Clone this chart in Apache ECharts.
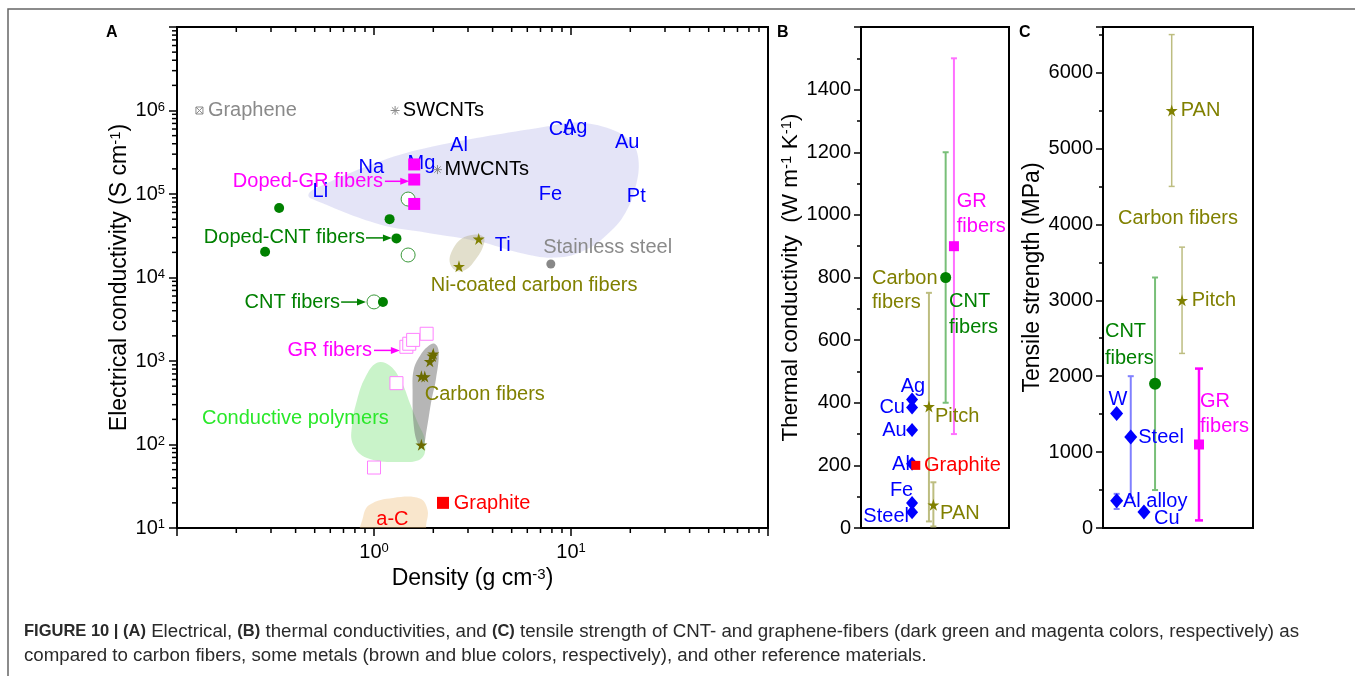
<!DOCTYPE html>
<html><head><meta charset="utf-8">
<script src="https://cdn.jsdelivr.net/npm/echarts@6/dist/echarts.min.js"></script>
<style>html,body{margin:0;padding:0;background:#fff}#c{width:1355px;height:676px}</style>
</head><body><div id="c"></div>
<script>
// ================= PANEL A : density vs electrical conductivity =================
const metalNames   = ['Li','Na','Mg','Al','Cu','Ag','Au','Fe','Pt','Ti'];
const metalDensity = [0.534, 0.97, 1.74, 2.70, 8.96, 10.5, 19.3, 7.87, 21.45, 4.5];
const metalCond    = [1.08e5, 2.1e5, 2.3e5, 3.77e5, 5.96e5, 6.3e5, 4.1e5, 1.0e5, 9.4e4, 2.4e4];

const graphenePt   = [[0.13, 1e6]];
const swcntPt      = [[1.28, 1e6]];
const mwcntPt      = [[2.1, 1.96e5]];
const stainlessPt  = [[7.9, 1.45e4]];
const dopedGRPts   = [[1.6, 2.26e5], [1.6, 1.49e5], [1.6, 7.6e4]];
const cntFilledPts = [[0.33, 6.8e4], [0.28, 2.03e4], [1.2, 5.0e4], [1.3, 2.94e4], [1.11, 5.1e3]];
const cntOpenPts   = [[1.49, 8.7e4], [1.49, 1.86e4], [1.0, 5.1e3]];
const grOpenPts    = [[1.30, 543], [1.0, 53], [1.46, 1.48e3], [1.51, 1.61e3], [1.58, 1.79e3], [1.85, 2.12e3]];
const cfStarPts    = [[2.0, 1.22e3], [1.98, 1.15e3], [1.92, 990], [1.74, 655], [1.81, 650], [1.74, 99]];
const niStarPts    = [[3.4, 2.9e4], [2.7, 1.36e4]];
const graphitePt   = [[2.24, 20]];

// shaded regions (density, conductivity)
const metalsRegion = [[0.464,9.6e4],[0.492,1.13e5],[1.072,2.45e5],[1.986,3.7e5],[7.48,6.43e5],[10.6,7.18e5],[16.1,5.92e5],[20.3,4.13e5],[22.0,2.58e5],[21.3,1.23e5],[18.9,5.98e4],[15.6,3.44e4],[11.9,2.15e4],[8.4,1.73e4],[5.46,1.98e4],[3.43,2.69e4],[1.85,3.44e4],[1.072,4.3e4],[0.492,8.57e4]];
const niRegion     = [[2.42,1.55e4],[2.54,2.28e4],[2.78,2.92e4],[3.2,3.26e4],[3.59,3.08e4],[3.59,2.4e4],[3.27,1.63e4],[2.92,1.24e4],[2.6,1.21e4]];
const cfRegion     = [[2.03,1.61e3],[2.13,1.29e3],[2.06,596],[1.96,343],[1.85,150],[1.77,93.5],[1.67,102],[1.59,172],[1.57,452],[1.59,784],[1.71,1.15e3],[1.87,1.48e3]];
const polyRegion   = [[1.035,950],[1.205,875],[1.385,548],[1.52,315],[1.67,181],[1.81,114],[1.75,69],[1.353,61.8],[0.922,69],[0.783,100],[0.774,172],[0.821,343],[0.901,630]];
const acRegion     = [[0.88,13.5],[0.95,19],[1.25,22.9],[1.71,22.5],[1.87,16.4],[1.84,10.9],[1.8,7],[0.86,7]];

const xMinorA = [0.2,0.3,0.4,0.5,0.6,0.7,0.8,0.9,2,3,4,5,6,7,8,9,20,30,40,50,60,70,80,90];
const yMinorA = [];
[10,100,1e3,1e4,1e5,1e6].forEach(d => { for (let k = 2; k <= 9; k++) yMinorA.push(k * d); });

// ================= PANEL B : thermal conductivity =================
const bMetalNames = ['Ag','Cu','Au','Al','Fe','Steel'];
const bMetalVals  = [410, 385, 313, 205, 80, 50];
const bGraphite   = 200;
const bCarbonNames = ['Pitch','PAN'];
const bCarbonVals  = [388, 74];
const bCarbonLow   = [21, 5];
const bCarbonHigh  = [751, 146];
const bCNT = {val: 800, low: 400, high: 1200};
const bGR  = {val: 900, low: 300, high: 1500};

// ================= PANEL C : tensile strength =================
const cMetalNames = ['W','Steel','Al alloy','Cu'];
const cMetalVals  = [1510, 1200, 360, 210];
const cMetalLow   = [null, 400, 250, null];
const cMetalHigh  = [null, 2000, 450, null];
const cCarbonNames = ['PAN','Pitch'];
const cCarbonVals  = [5500, 3000];
const cCarbonLow   = [4500, 2300];
const cCarbonHigh  = [6500, 3700];
const cCNT = {val: 1900, low: 500, high: 3300};
const cGR  = {val: 1100, low: 100, high: 2100};

// ---------- horizontal slots (layout of panels B and C) ----------
const bSlot = {metal: 0.345, graphite: 0.37, pitch: 0.459, pan: 0.489, cnt: 0.572, gr: 0.628};
const cSlot = {W: 0.091, Steel: 0.185, 'Al alloy': 0.091, Cu: 0.273, cnt: 0.347, PAN: 0.458, Pitch: 0.527, gr: 0.64};

const FF = 'Arial, "Liberation Sans", sans-serif';
const BLUE = '#0000ff', OLIVE = '#808000', GREEN = '#008000', MAG = '#ff00ff', RED = '#ff0000', GRAY = '#8a8a8a';
const STAR = 'path://M50,0 L61,35 L98,35 L68,57 L79,91 L50,70 L21,91 L32,57 L2,35 L39,35 Z';

// ---------- annotation texts ----------
const annA = [
  {t:'Graphene', x:0.1435, y:1e6, c:GRAY},
  {t:'SWCNTs', x:1.40, y:1e6, c:'#000'},
  {t:'MWCNTs', x:2.28, y:1.96e5, c:'#000'},
  {t:'Doped-GR fibers', x:1.11, y:1.42e5, c:MAG, a:'right'},
  {t:'Doped-CNT fibers', x:0.90, y:2.98e4, c:GREEN, a:'right'},
  {t:'CNT fibers', x:0.673, y:5.08e3, c:GREEN, a:'right'},
  {t:'GR fibers', x:0.977, y:1.34e3, c:MAG, a:'right'},
  {t:'Ni-coated carbon fibers', x:1.94, y:8.03e3, c:OLIVE},
  {t:'Carbon fibers', x:1.81, y:393, c:OLIVE},
  {t:'Conductive polymers', x:0.134, y:206, c:'#2ae82a'},
  {t:'Graphite', x:2.54, y:19.8, c:RED},
  {t:'a-C', x:1.24, y:12.5, c:RED, a:'center'},
  {t:'Stainless steel', x:7.22, y:2.27e4, c:GRAY}
];
metalNames.forEach((n, i) => annA.push({t:n, x:metalDensity[i], y:metalCond[i], c:BLUE, a:'center'}));

const arrowsA = [
  {from:[1.136,1.42e5], to:[1.51,1.42e5], c:MAG},
  {from:[0.911,2.98e4], to:[1.233,2.98e4], c:GREEN},
  {from:[0.681,5.08e3], to:[0.911,5.08e3], c:GREEN},
  {from:[1.0,1.34e3], to:[1.353,1.34e3], c:MAG}
];

const annB = [
  {t:'Ag', x:0.351, y:451, c:BLUE, a:'center'},
  {t:'Cu', x:0.297, y:386, c:BLUE, a:'right'},
  {t:'Au', x:0.309, y:311, c:BLUE, a:'right'},
  {t:'Al', x:0.33, y:204, c:BLUE, a:'right'},
  {t:'Fe', x:0.274, y:121, c:BLUE, a:'center'},
  {t:'Steel', x:0.324, y:36, c:BLUE, a:'right'},
  {t:'Graphite', x:0.426, y:201, c:RED},
  {t:'Pitch', x:0.5, y:355, c:OLIVE},
  {t:'PAN', x:0.534, y:47, c:OLIVE},
  {t:'Carbon\nfibers', x:0.074, y:760, c:OLIVE, lh:24},
  {t:'CNT\nfibers', x:0.595, y:682, c:GREEN, lh:26},
  {t:'GR\nfibers', x:0.647, y:1002, c:MAG, lh:25}
];
const annC = [
  {t:'W', x:0.1, y:1688, c:BLUE, a:'center'},
  {t:'Steel', x:0.235, y:1196, c:BLUE},
  {t:'Al alloy', x:0.133, y:343, c:BLUE},
  {t:'Cu', x:0.34, y:128, c:BLUE},
  {t:'CNT\nfibers', x:0.013, y:2413, c:GREEN, lh:27},
  {t:'PAN', x:0.518, y:5503, c:OLIVE},
  {t:'Pitch', x:0.591, y:2997, c:OLIVE},
  {t:'Carbon fibers', x:0.5, y:4075, c:OLIVE, a:'center'},
  {t:'GR\nfibers', x:0.647, y:1501, c:MAG, lh:25}
];

// ---------- series helpers ----------
function textSeries(list, xi, yi) {
  return {type:'custom', xAxisIndex:xi, yAxisIndex:yi, z:3, silent:true,
    data: list.map(a => [a.x, a.y]),
    renderItem(params, api) {
      const a = list[params.dataIndex];
      const p = api.coord([api.value(0), api.value(1)]);
      return {type:'text', x:p[0], y:p[1], style:{text:a.t, fill:a.c, fontSize:20, fontFamily:FF,
        align:a.a || 'left', verticalAlign:'middle', lineHeight:a.lh || 22}};
    }};
}
function scatter(data, xi, yi, symbol, size, color, border, bw) {
  return {type:'scatter', xAxisIndex:xi, yAxisIndex:yi, z:4, silent:true, symbol, symbolSize:size, data,
    itemStyle:{color, borderColor:border || color, borderWidth:bw || 0, opacity:1}};
}
function region(pts, fill) {
  return {type:'custom', xAxisIndex:0, yAxisIndex:0, z:1, silent:true, clip:true,
    data:[[1, 100]],
    renderItem(params, api) {
      return {type:'polygon', shape:{points: pts.map(p => api.coord(p)), smooth:0.4}, style:{fill}};
    }};
}
function errSeries(items, xi, yi, color, width, cap) {
  return {type:'custom', xAxisIndex:xi, yAxisIndex:yi, z:2, silent:true, data: items,
    renderItem(params, api) {
      const x = api.value(0);
      const a = api.coord([x, api.value(1)]), b = api.coord([x, api.value(2)]);
      const st = {stroke:color, lineWidth:width};
      return {type:'group', children:[
        {type:'line', shape:{x1:a[0], y1:a[1], x2:b[0], y2:b[1]}, style:st},
        {type:'line', shape:{x1:a[0]-cap, y1:a[1], x2:a[0]+cap, y2:a[1]}, style:st},
        {type:'line', shape:{x1:b[0]-cap, y1:b[1], x2:b[0]+cap, y2:b[1]}, style:st}]};
    }};
}

const series = [
  region(metalsRegion, 'rgba(150,150,225,0.26)'),
  region(niRegion, 'rgba(165,155,95,0.32)'),
  region(polyRegion, 'rgba(100,220,100,0.35)'),
  region(cfRegion, 'rgba(110,110,110,0.5)'),
  region(acRegion, 'rgba(240,190,120,0.38)'),
  // minor ticks of log axes (panel A)
  {type:'custom', xAxisIndex:0, yAxisIndex:0, z:6, silent:true, data: xMinorA.map(v => [v, 10]),
    renderItem(params, api) {
      const v = api.value(0), b = api.coord([v, 10]), t = api.coord([v, 1e7]);
      const st = {stroke:'#000', lineWidth:1.5};
      return {type:'group', children:[
        {type:'line', shape:{x1:b[0], y1:b[1], x2:b[0], y2:b[1]+5}, style:st},
        {type:'line', shape:{x1:t[0], y1:t[1], x2:t[0], y2:t[1]+5}, style:st}]};
    }},
  {type:'custom', xAxisIndex:0, yAxisIndex:0, z:6, silent:true, data: yMinorA.map(v => [0.1, v]),
    renderItem(params, api) {
      const p = api.coord([0.1, api.value(1)]);
      return {type:'line', shape:{x1:p[0]-5, y1:p[1], x2:p[0], y2:p[1]}, style:{stroke:'#000', lineWidth:1.5}};
    }},
  textSeries(annA, 0, 0),
  // arrows
  {type:'custom', xAxisIndex:0, yAxisIndex:0, z:4, silent:true,
    data: arrowsA.map(a => [a.from[0], a.from[1], a.to[0], a.to[1]]),
    renderItem(params, api) {
      const c = arrowsA[params.dataIndex].c;
      const a = api.coord([api.value(0), api.value(1)]), b = api.coord([api.value(2), api.value(3)]);
      return {type:'group', children:[
        {type:'line', shape:{x1:a[0], y1:a[1], x2:b[0]-6, y2:b[1]}, style:{stroke:c, lineWidth:1.5}},
        {type:'polygon', shape:{points:[[b[0], b[1]], [b[0]-9, b[1]-3.5], [b[0]-9, b[1]+3.5]]}, style:{fill:c}}]};
    }},
  // graphene (boxed x) and CNT asterisks
  {type:'custom', xAxisIndex:0, yAxisIndex:0, z:4, silent:true, data: graphenePt,
    renderItem(params, api) {
      const p = api.coord([api.value(0), api.value(1)]), r = 3.5, st = {stroke:GRAY, lineWidth:1, fill:null};
      return {type:'group', children:[
        {type:'rect', shape:{x:p[0]-r, y:p[1]-r, width:2*r, height:2*r}, style:st},
        {type:'line', shape:{x1:p[0]-r, y1:p[1]-r, x2:p[0]+r, y2:p[1]+r}, style:st},
        {type:'line', shape:{x1:p[0]+r, y1:p[1]-r, x2:p[0]-r, y2:p[1]+r}, style:st}]};
    }},
  {type:'custom', xAxisIndex:0, yAxisIndex:0, z:4, silent:true, data: swcntPt.concat(mwcntPt),
    renderItem(params, api) {
      const p = api.coord([api.value(0), api.value(1)]), r = 4.5, d = 3.2, st = {stroke:GRAY, lineWidth:1};
      return {type:'group', children:[
        {type:'line', shape:{x1:p[0], y1:p[1]-r, x2:p[0], y2:p[1]+r}, style:st},
        {type:'line', shape:{x1:p[0]-r, y1:p[1], x2:p[0]+r, y2:p[1]}, style:st},
        {type:'line', shape:{x1:p[0]-d, y1:p[1]-d, x2:p[0]+d, y2:p[1]+d}, style:st},
        {type:'line', shape:{x1:p[0]+d, y1:p[1]-d, x2:p[0]-d, y2:p[1]+d}, style:st}]};
    }},
  scatter(stainlessPt, 0, 0, 'circle', 9, '#888'),
  scatter(cntOpenPts, 0, 0, 'circle', 14, '#ffffff', '#3c9a3c', 1),
  scatter(cntFilledPts, 0, 0, 'circle', 10, GREEN),
  scatter(grOpenPts, 0, 0, 'rect', 13, '#ffffff', '#ff80ff', 1),
  scatter(dopedGRPts, 0, 0, 'rect', 12, MAG),
  scatter(cfStarPts, 0, 0, STAR, 12, '#6b6b00'),
  scatter(niStarPts, 0, 0, STAR, 12, OLIVE),
  scatter(graphitePt, 0, 0, 'rect', 12, RED),

  // ---- panel B ----
  errSeries(bCarbonVals.map((v, i) => [i === 0 ? bSlot.pitch : bSlot.pan, bCarbonLow[i], bCarbonHigh[i]]), 1, 1, '#bdbd80', 2, 3),
  errSeries([[bSlot.cnt, bCNT.low, bCNT.high]], 1, 1, '#78bf78', 2, 3),
  errSeries([[bSlot.gr, bGR.low, bGR.high]], 1, 1, '#ff70ff', 2, 3),
  textSeries(annB, 1, 1),
  scatter(bMetalVals.map(v => [bSlot.metal, v]), 1, 1, 'diamond', [12, 14], BLUE),
  scatter([[bSlot.graphite, bGraphite]], 1, 1, 'rect', 9, RED),
  scatter(bCarbonVals.map((v, i) => [i === 0 ? bSlot.pitch : bSlot.pan, v]), 1, 1, STAR, 12, OLIVE),
  scatter([[bSlot.cnt, bCNT.val]], 1, 1, 'circle', 11, GREEN),
  scatter([[bSlot.gr, bGR.val]], 1, 1, 'rect', 10, MAG),

  // ---- panel C ----
  errSeries(cMetalVals.map((v, i) => [cSlot[cMetalNames[i]], cMetalLow[i], cMetalHigh[i]]).filter(d => d[1] !== null), 2, 2, '#8080ff', 2, 3),
  errSeries(cCarbonVals.map((v, i) => [cSlot[cCarbonNames[i]], cCarbonLow[i], cCarbonHigh[i]]), 2, 2, '#bdbd80', 1.5, 3),
  errSeries([[cSlot.cnt, cCNT.low, cCNT.high]], 2, 2, '#78bf78', 2, 3),
  errSeries([[cSlot.gr, cGR.low, cGR.high]], 2, 2, MAG, 2.5, 4),
  textSeries(annC, 2, 2),
  scatter(cMetalVals.map((v, i) => [cSlot[cMetalNames[i]], v]), 2, 2, 'diamond', [13, 15], BLUE),
  scatter(cCarbonVals.map((v, i) => [cSlot[cCarbonNames[i]], v]), 2, 2, STAR, 12, OLIVE),
  scatter([[cSlot.cnt, cCNT.val]], 2, 2, 'circle', 12, GREEN),
  scatter([[cSlot.gr, cGR.val]], 2, 2, 'rect', 10, MAG)
];

const supRich = {sup: {fontSize: 13, verticalAlign: 'top', fontFamily: FF, color: '#000'}};
const nameRich = {sup: {fontSize: 15, verticalAlign: 'top', fontFamily: FF, color: '#000'}};
const powLabel = (show) => (v) => { const e = Math.round(Math.log10(v)); return show.includes(e) ? '10{sup|' + e + '}' : ''; };
const lineBlack = {show: true, lineStyle: {color: '#000', width: 2}};

const option = {
  animation: false,
  backgroundColor: '#fff',
  textStyle: {fontFamily: FF},
  grid: [
    {left: 177, top: 27, width: 591, height: 501, show: true, borderColor: '#000', borderWidth: 2},
    {left: 861, top: 27, width: 148, height: 501, show: true, borderColor: '#000', borderWidth: 2},
    {left: 1103, top: 27, width: 150, height: 501, show: true, borderColor: '#000', borderWidth: 2}
  ],
  xAxis: [
    {gridIndex: 0, type: 'log', logBase: 10, min: 0.1, max: 100, position: 'bottom',
      axisLine: lineBlack, splitLine: {show: false},
      axisTick: {show: true, length: 8, lineStyle: {color: '#000', width: 1.5}},
      axisLabel: {formatter: powLabel([0, 1]), fontSize: 20, color: '#000', margin: 14, fontFamily: FF, rich: supRich},
      name: 'Density (g cm{sup|-3})', nameLocation: 'middle', nameGap: 33,
      nameTextStyle: {fontSize: 23, color: '#000', fontFamily: FF, rich: nameRich}},
    {gridIndex: 1, type: 'value', min: 0, max: 1, show: false},
    {gridIndex: 2, type: 'value', min: 0, max: 1, show: false},
    {gridIndex: 0, type: 'log', logBase: 10, min: 0.1, max: 100, position: 'top',
      axisLine: lineBlack, splitLine: {show: false},
      axisTick: {show: true, inside: true, length: 8, lineStyle: {color: '#000', width: 1.5}},
      axisLabel: {show: false}}
  ],
  yAxis: [
    {gridIndex: 0, type: 'log', logBase: 10, min: 10, max: 1e7, splitNumber: 6,
      axisLine: lineBlack, splitLine: {show: false},
      axisTick: {show: true, length: 8, lineStyle: {color: '#000', width: 1.5}},
      axisLabel: {formatter: powLabel([1, 2, 3, 4, 5, 6]), fontSize: 20, color: '#000', margin: 12, fontFamily: FF, rich: supRich},
      name: 'Electrical conductivity (S cm{sup|-1})', nameLocation: 'middle', nameGap: 44,
      nameTextStyle: {fontSize: 23, color: '#000', fontFamily: FF, rich: nameRich}},
    {gridIndex: 1, type: 'value', min: 0, max: 1600, interval: 200,
      axisLine: lineBlack, splitLine: {show: false},
      axisTick: {show: true, length: 7, lineStyle: {color: '#000', width: 1.5}},
      minorTick: {show: true, splitNumber: 2, length: 4, lineStyle: {color: '#000', width: 1.5}},
      axisLabel: {fontSize: 20, color: '#000', margin: 10, fontFamily: FF, showMaxLabel: false, formatter: v => String(v)},
      name: 'Thermal conductivity  (W m{sup|-1} K{sup|-1})', nameLocation: 'middle', nameGap: 50,
      nameTextStyle: {fontSize: 22.5, color: '#000', fontFamily: FF, rich: nameRich}},
    {gridIndex: 2, type: 'value', min: 0, max: 6600, interval: 1000,
      axisLine: lineBlack, splitLine: {show: false},
      axisTick: {show: true, length: 7, lineStyle: {color: '#000', width: 1.5}},
      minorTick: {show: true, splitNumber: 2, length: 4, lineStyle: {color: '#000', width: 1.5}},
      axisLabel: {fontSize: 20, color: '#000', margin: 10, fontFamily: FF, showMaxLabel: false,
        formatter: v => (v % 1000 === 0 ? String(v) : '')},
      name: 'Tensile strength (MPa)', nameLocation: 'middle', nameGap: 53,
      nameTextStyle: {fontSize: 23, color: '#000', fontFamily: FF}}
  ],
  series: series,
  graphic: [
    {type: 'polyline', silent: true, shape: {points: [[1355, 9], [8, 9], [8, 676]]}, style: {stroke: '#666', lineWidth: 1.5, fill: null}},
    {type: 'text', left: 106, top: 25, style: {text: 'A', fontSize: 16, fontWeight: 'bold', fill: '#000', fontFamily: FF}},
    {type: 'text', left: 777, top: 25, style: {text: 'B', fontSize: 16, fontWeight: 'bold', fill: '#000', fontFamily: FF}},
    {type: 'text', left: 1019, top: 25, style: {text: 'C', fontSize: 16, fontWeight: 'bold', fill: '#000', fontFamily: FF}},
    {type: 'text', left: 24, top: 622, style: {
      text: '{b|FIGURE 10 | (A)} Electrical, {b|(B)} thermal conductivities, and {b|(C)} tensile strength of CNT- and graphene-fibers (dark green and magenta colors, respectively) as',
      fontSize: 18.7, fill: '#2a2a2a', fontFamily: FF,
      rich: {b: {fontWeight: 'bold', fontSize: 16.5, fill: '#2a2a2a', fontFamily: FF}}}},
    {type: 'text', left: 24, top: 646, style: {
      text: 'compared to carbon fibers, some metals (brown and blue colors, respectively), and other reference materials.',
      fontSize: 18.7, fill: '#2a2a2a', fontFamily: FF}}
  ]
};

const chart = echarts.init(document.getElementById('c'), null, {renderer: 'canvas'});
chart.setOption(option);
</script></body></html>
